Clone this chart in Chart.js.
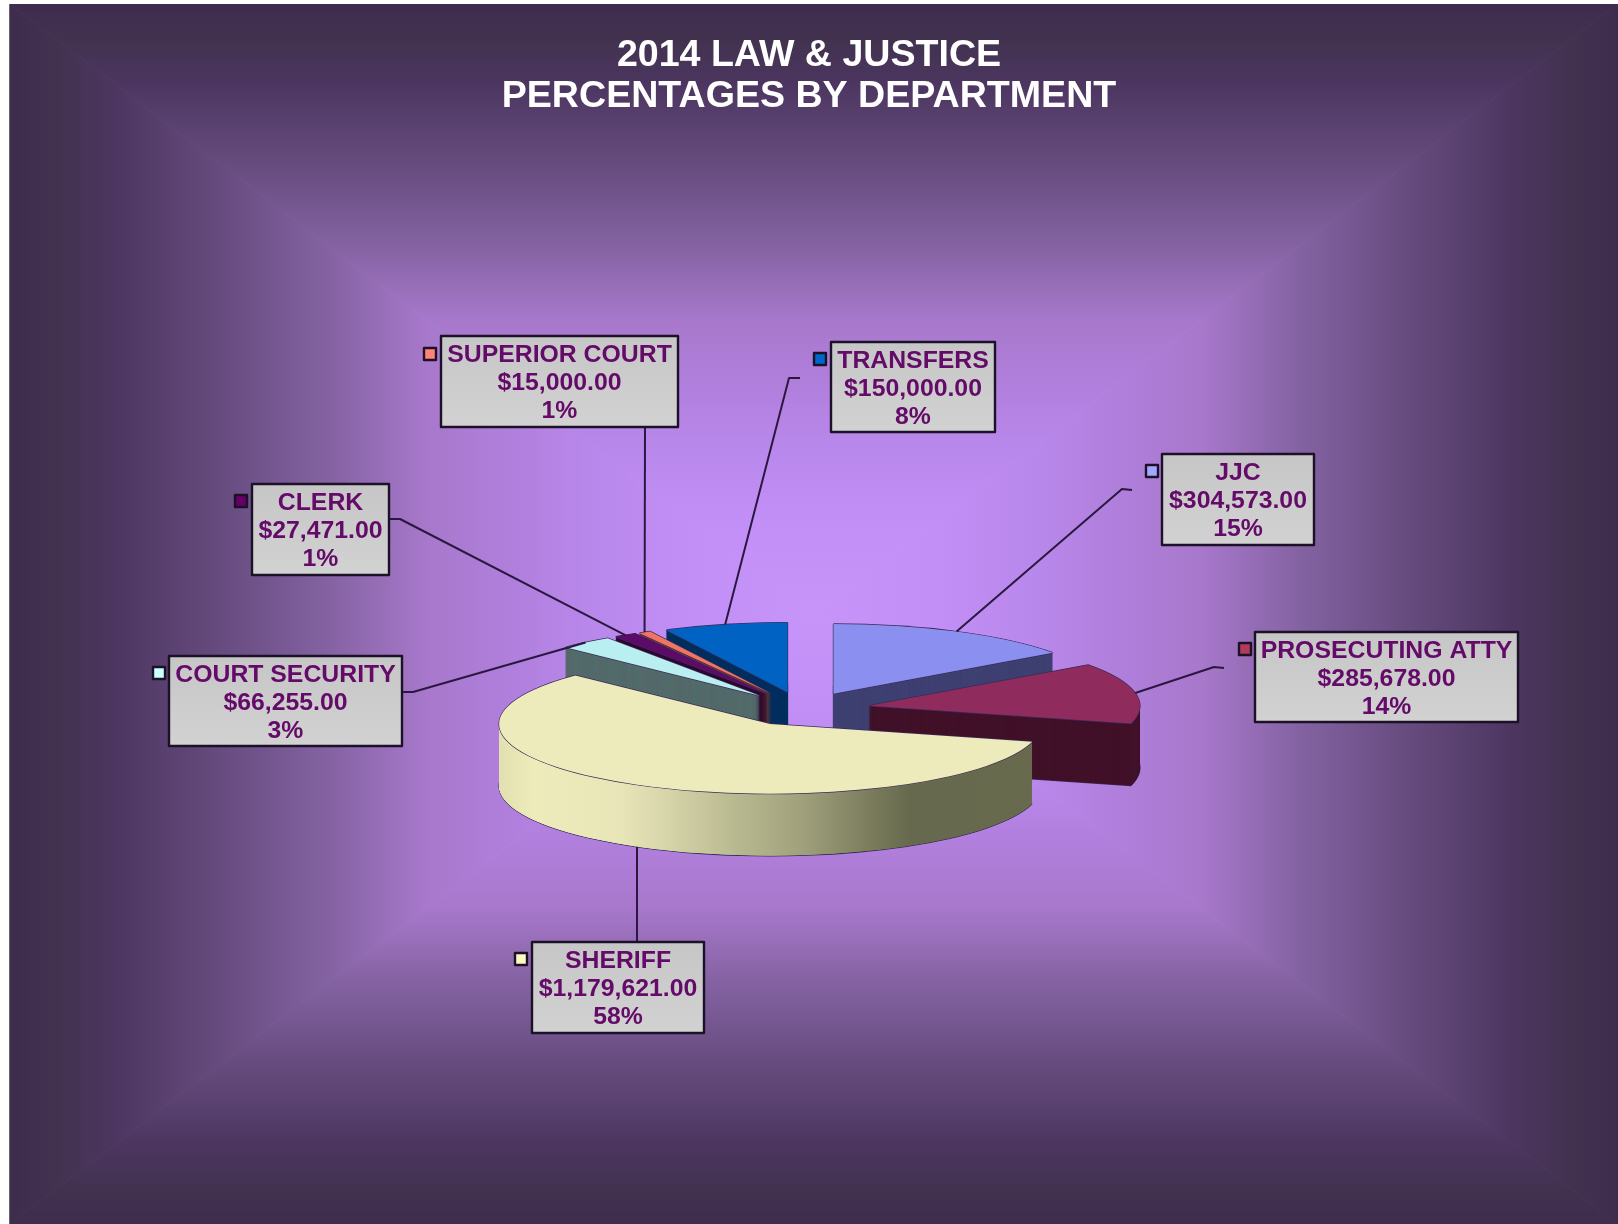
<!DOCTYPE html>
<html>
<head>
<meta charset="utf-8">
<title>2014 Law &amp; Justice</title>
<style>
html,body{margin:0;padding:0;background:#fff;}
canvas{display:block;}
</style>
<script src="https://cdn.jsdelivr.net/npm/chart.js@4/dist/chart.umd.min.js"></script>
</head>
<body>
<canvas id="c" width="1618" height="1224" style="width:1618px;height:1224px"></canvas>
<script>
// ---- data ----
const titleLines = ['2014 LAW & JUSTICE', 'PERCENTAGES BY DEPARTMENT'];
const categories = ['JJC', 'PROSECUTING ATTY', 'SHERIFF', 'COURT SECURITY', 'CLERK', 'SUPERIOR COURT', 'TRANSFERS'];
const budget = [304573, 285678, 1179621, 66255, 27471, 15000, 150000];
const percentLabels = ['15%', '14%', '58%', '3%', '1%', '1%', '8%'];

// ---- styles ----
const topColors = ['#8b8ff0', '#8f2b5d', '#edeabb', '#b9eff0', '#5c0b68', '#ee7563', '#0062c2'];
const sideColors = ['#3f4172', '#42122a', null, '#546b6b', '#2f0a32', '#7d3f2c', '#00305f'];
const swatchColors = ['#a5a8ff', '#b23a5c', '#fdf8c4', '#ccffff', '#660066', '#ff8477', '#0066cc'];
const sheriffRim = [[-1, '#e2dfb0'], [-0.88, '#eeebbb'], [-0.55, '#e8e5b8'], [-0.37, '#d5d3a8'], [-0.12, '#b8b890'], [0.12, '#a0a07c'], [0.37, '#7a7c5c'], [0.52, '#67694e'], [1, '#686a4e']];
const glowStops = [[0, '#c794fa'], [0.15, '#c28ff6'], [0.27, '#b988ec'], [0.38, '#b07fdc'], [0.48, '#a878cc'], [0.6, '#8563a3'], [0.74, '#664b7e'], [0.87, '#4c3660'], [0.94, '#423250'], [1, '#3e2c4c']];

// ---- layout ----
const frame = {x0: 9.5, y0: 4, x1: 1618, y1: 1224};
const pie3d = {shiftX: -6, squash: 0.257, explode: 67, depth: 62, wallStep: 0.25};
const paintOrder = [0, 6, 5, 4, 3, 1, 2];
const callouts = [
  {box: [1162, 454, 1314, 545], swatch: [1145, 464], leader: [[1132, 490], [1122, 489]]},
  {box: [1255, 632, 1518, 722], swatch: [1238, 642], leader: [[1224, 668], [1214, 667]]},
  {box: [532, 942, 704, 1033], swatch: [514, 952], leader: [[637, 942]]},
  {box: [169, 656, 402, 746], swatch: [152, 666], leader: [[402, 692], [413, 692]]},
  {box: [252, 484, 389, 575], swatch: [234, 494], leader: [[389, 519], [400, 519]]},
  {box: [441, 336, 678, 427], swatch: [423, 347], leader: [[645, 427]]},
  {box: [831, 342, 995, 432], swatch: [813, 352], leader: [[800, 378], [789, 378]]}
];
const FONT = '"Liberation Sans", Arial, sans-serif';

function money(v) {
  return v.toLocaleString('en-US', {style: 'currency', currency: 'USD', minimumFractionDigits: 2});
}

const backgroundPlugin = {
  id: 'rectGlow',
  beforeDraw(chart) {
    const ctx = chart.ctx, f = frame;
    const cx = (f.x0 + f.x1) / 2, cy = (f.y0 + f.y1) / 2;
    ctx.save();
    ctx.fillStyle = '#ffffff';
    ctx.fillRect(0, 0, chart.width, chart.height);
    const sides = [
      [[f.x0, f.y0], [f.x1, f.y0]],
      [[f.x1, f.y0], [f.x1, f.y1]],
      [[f.x1, f.y1], [f.x0, f.y1]],
      [[f.x0, f.y1], [f.x0, f.y0]]
    ];
    const grads = [
      ctx.createLinearGradient(0, cy, 0, f.y0),
      ctx.createLinearGradient(cx, 0, f.x1, 0),
      ctx.createLinearGradient(0, cy, 0, f.y1),
      ctx.createLinearGradient(cx, 0, f.x0, 0)
    ];
    sides.forEach((s, i) => {
      glowStops.forEach(st => grads[i].addColorStop(st[0], st[1]));
      ctx.beginPath();
      ctx.moveTo(s[0][0], s[0][1]);
      ctx.lineTo(s[1][0], s[1][1]);
      ctx.lineTo(cx, cy);
      ctx.closePath();
      ctx.fillStyle = grads[i];
      ctx.fill();
      ctx.strokeStyle = grads[i];
      ctx.lineWidth = 1;
      ctx.stroke();
    });
    ctx.fillStyle = '#ffffff';
    ctx.fillRect(0, 0, f.x0, chart.height);
    ctx.fillRect(0, 0, chart.width, f.y0);
    ctx.fillStyle = '#3a3048';
    ctx.fillRect(f.x0, f.y0, 1, f.y1 - f.y0);
    ctx.restore();
  }
};

function layerArc(ctx, arc, fill, dx, dy) {
  const p = pie3d;
  const mid = (arc.startAngle + arc.endAngle) / 2;
  const saved = arc.options;
  arc.options = Object.assign({}, saved, {backgroundColor: fill, borderWidth: 0, offset: 0});
  ctx.save();
  ctx.translate(arc.x + p.shiftX + Math.cos(mid) * p.explode + dx,
                arc.y + Math.sin(mid) * p.explode * p.squash + dy);
  ctx.scale(1, p.squash);
  ctx.translate(-arc.x, -arc.y);
  arc.draw(ctx);
  ctx.restore();
  arc.options = saved;
}

function rimFill(ctx, arc, index) {
  if (sideColors[index]) return sideColors[index];
  const R = arc.outerRadius;
  const g = ctx.createLinearGradient(arc.x - R, 0, arc.x + R, 0);
  sheriffRim.forEach(s => g.addColorStop((s[0] + 1) / 2, s[1]));
  return g;
}

const pie3dPlugin = {
  id: 'pie3d',
  beforeDatasetDraw(chart, args) {
    const ctx = chart.ctx, arcs = args.meta.data, p = pie3d;
    const edge = '#3a2a58';
    paintOrder.forEach(i => {
      const arc = arcs[i];
      const rim = rimFill(ctx, arc, i);
      layerArc(ctx, arc, edge, 0, p.depth + 0.8);
      layerArc(ctx, arc, edge, -0.6, p.depth);
      layerArc(ctx, arc, edge, 0.6, p.depth);
      for (let d = p.depth; d >= 0.25; d -= p.wallStep) layerArc(ctx, arc, rim, 0, d);
      layerArc(ctx, arc, edge, -0.6, 0);
      layerArc(ctx, arc, edge, 0.6, 0);
      layerArc(ctx, arc, edge, 0, -0.7);
      layerArc(ctx, arc, edge, 0, 0.7);
      layerArc(ctx, arc, topColors[i], 0, 0);
    });
    return false;
  },
  afterDatasetsDraw(chart) {
    const ctx = chart.ctx, p = pie3d;
    const arcs = chart.getDatasetMeta(0).data;
    ctx.save();
    ctx.lineJoin = 'round';
    callouts.forEach((c, i) => {
      const arc = arcs[i];
      const mid = (arc.startAngle + arc.endAngle) / 2;
      const R = arc.outerRadius;
      const ax = arc.x + p.shiftX + Math.cos(mid) * (p.explode + R);
      let ay = arc.y + Math.sin(mid) * (p.explode + R) * p.squash;
      if (Math.sin(mid) > 0) ay += p.depth;
      ctx.beginPath();
      ctx.moveTo(c.leader[0][0], c.leader[0][1]);
      c.leader.slice(1).forEach(q => ctx.lineTo(q[0], q[1]));
      ctx.lineTo(ax, ay);
      ctx.strokeStyle = '#2a1840';
      ctx.lineWidth = 2;
      ctx.stroke();
    });
    callouts.forEach((c, i) => {
      const [x0, y0, x1, y1] = c.box;
      const g = ctx.createLinearGradient(0, y0, 0, y1);
      g.addColorStop(0, '#c6c6c6');
      g.addColorStop(1, '#d2d2d2');
      ctx.fillStyle = g;
      ctx.fillRect(x0, y0, x1 - x0, y1 - y0);
      ctx.strokeStyle = '#1c1228';
      ctx.lineWidth = 2.4;
      ctx.strokeRect(x0, y0, x1 - x0, y1 - y0);
      ctx.fillStyle = swatchColors[i];
      ctx.fillRect(c.swatch[0] + 1, c.swatch[1] + 1, 12, 12);
      ctx.strokeRect(c.swatch[0] + 1, c.swatch[1] + 1, 12, 12);
      const lines = [categories[i], money(budget[i]), percentLabels[i]];
      ctx.fillStyle = '#640a68';
      ctx.font = 'bold 24.8px ' + FONT;
      ctx.textAlign = 'center';
      ctx.textBaseline = 'middle';
      const xm = (x0 + x1) / 2;
      lines.forEach((t, k) => ctx.fillText(t, xm, y0 + 19.2 + k * 28.2));
    });
    ctx.restore();
  }
};

new Chart(document.getElementById('c'), {
  type: 'pie',
  data: {
    labels: categories,
    datasets: [{data: budget, backgroundColor: topColors, borderWidth: 0}]
  },
  options: {
    responsive: false,
    animation: false,
    layout: {padding: {top: 0, bottom: 244, left: 0, right: 0}},
    plugins: {
      legend: {display: false},
      tooltip: {enabled: false},
      title: {
        display: true,
        text: titleLines,
        color: '#ffffff',
        font: {family: FONT, size: 37.6, weight: 'bold', lineHeight: 1.09},
        padding: {top: 35.5, bottom: 320.5}
      }
    }
  },
  plugins: [backgroundPlugin, pie3dPlugin]
});
</script>
</body>
</html>
